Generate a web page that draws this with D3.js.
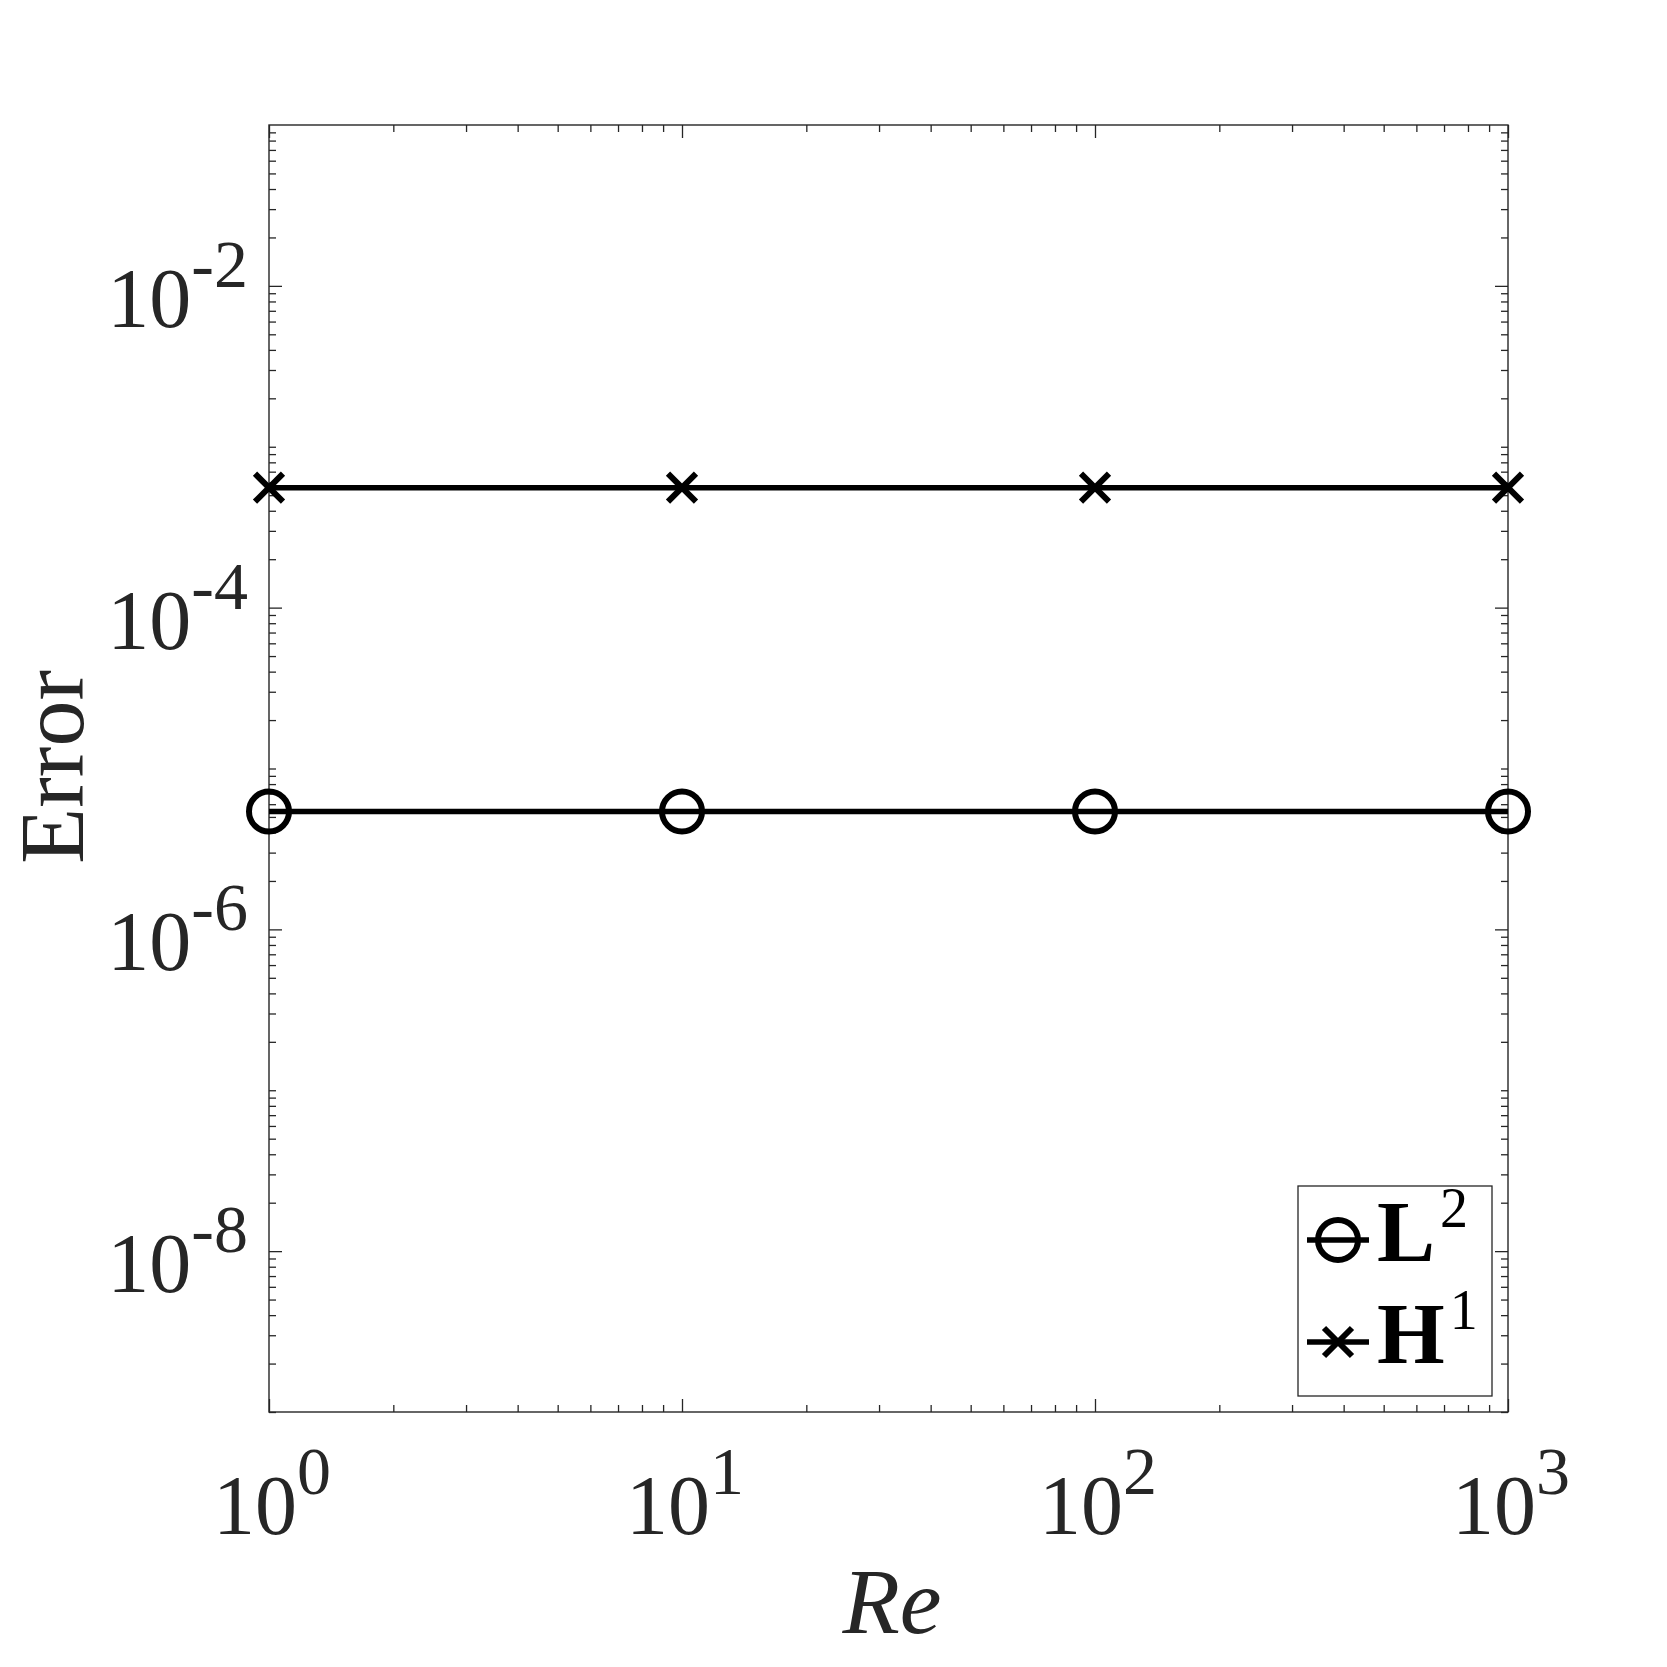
<!DOCTYPE html>
<html>
<head>
<meta charset="utf-8">
<script src="https://cdn.jsdelivr.net/npm/d3@7"></script>
<style>
  html, body { margin: 0; padding: 0; background: #fff; }
  text { font-family: "Liberation Serif", "Times New Roman", serif; fill: #262626; }
</style>
</head>
<body>
<svg id="chart" width="1667" height="1667"></svg>
<script>
// data
const reynolds = [1, 10, 100, 1000];
const errL2 = [5.4e-6, 5.4e-6, 5.4e-6, 5.4e-6];
const errH1 = [5.57e-4, 5.57e-4, 5.57e-4, 5.57e-4];

const xTickExps = [0, 1, 2, 3];
const yTickExps = [-8, -6, -4, -2];
const seriesNames = [
    { base: "L", sup: "2", marker: "circle" },
    { base: "H", sup: "1", marker: "cross" }
];

const axisColor = "#262626";
const plotL = 269, plotR = 1508, plotT = 125, plotB = 1412;
const markW = 6;

const svg = d3.select("#chart");
svg.append("rect").attr("width", 1667).attr("height", 1667).attr("fill", "#fff");

const x = d3.scaleLog().domain([1, 1000]).range([plotL, plotR]);
const y = d3.scaleLog().domain([1e-9, 1e-1]).range([plotB, plotT]);

// minor ticks: every 1..9 x 10^k not used as a major tick
function minorVals(scale, majors) {
    const [lo, hi] = scale.domain().map(Math.log10);
    const out = [];
    for (let k = Math.floor(lo); k < Math.ceil(hi); k++) {
        for (let m = 1; m <= 9; m++) {
            const v = m * Math.pow(10, k);
            const lv = Math.log10(v);
            if (lv < lo - 1e-9 || lv > hi + 1e-9) continue;
            if (m === 1 && majors.some(e => Math.abs(e - k) < 1e-9)) continue;
            out.push(v);
        }
    }
    return out;
}

const xMajor = xTickExps.map(e => Math.pow(10, e));
const yMajor = yTickExps.map(e => Math.pow(10, e));
const xMinor = minorVals(x, xTickExps);
const yMinor = minorVals(y, yTickExps);

function drawAxis(gen, transform) {
    const g = svg.append("g").attr("transform", transform).call(gen);
    g.select(".domain").remove();
    g.selectAll(".tick line").attr("stroke", axisColor).attr("stroke-width", 1.3);
    g.selectAll(".tick text").remove();
}

const majorLen = 13, minorLen = 7;
drawAxis(d3.axisBottom(x).tickValues(xMajor).tickSize(-majorLen), `translate(0,${plotB})`);
drawAxis(d3.axisBottom(x).tickValues(xMinor).tickSize(-minorLen), `translate(0,${plotB})`);
drawAxis(d3.axisTop(x).tickValues(xMajor).tickSize(-majorLen), `translate(0,${plotT})`);
drawAxis(d3.axisTop(x).tickValues(xMinor).tickSize(-minorLen), `translate(0,${plotT})`);
drawAxis(d3.axisLeft(y).tickValues(yMajor).tickSize(-majorLen), `translate(${plotL},0)`);
drawAxis(d3.axisLeft(y).tickValues(yMinor).tickSize(-minorLen), `translate(${plotL},0)`);
drawAxis(d3.axisRight(y).tickValues(yMajor).tickSize(-majorLen), `translate(${plotR},0)`);
drawAxis(d3.axisRight(y).tickValues(yMinor).tickSize(-minorLen), `translate(${plotR},0)`);

svg.append("rect")
    .attr("x", plotL).attr("y", plotT)
    .attr("width", plotR - plotL).attr("height", plotB - plotT)
    .attr("fill", "none").attr("stroke", axisColor).attr("stroke-width", 1.4);

// tick labels 10^k
const mainSize = 84, supSize = 68;
function powerLabel(sel, exp) {
    sel.append("tspan").text("10");
    sel.append("tspan").attr("dy", -40).attr("font-size", supSize).text(exp);
}

xTickExps.forEach(e => {
    svg.append("text")
        .attr("x", x(Math.pow(10, e)) + 3).attr("y", 1534)
        .attr("text-anchor", "middle").attr("font-size", mainSize)
        .call(powerLabel, String(e));
});
yTickExps.forEach(e => {
    svg.append("text")
        .attr("x", 248).attr("y", y(Math.pow(10, e)) + 41)
        .attr("text-anchor", "end").attr("font-size", mainSize)
        .call(powerLabel, "-" + Math.abs(e));
});

// axis titles
svg.append("text")
    .attr("x", 892).attr("y", 1633)
    .attr("text-anchor", "middle").attr("font-size", 94).attr("font-style", "italic")
    .text("Re");
svg.append("text")
    .attr("transform", "translate(83,767) rotate(-90)")
    .attr("text-anchor", "middle").attr("font-size", 92)
    .text("Error");

// series
const line = d3.line().x(d => x(d[0])).y(d => y(d[1]));
const seriesData = [
    reynolds.map((r, i) => [r, errL2[i]]),
    reynolds.map((r, i) => [r, errH1[i]])
];

function drawMarker(g, type) {
    if (type === "circle") {
        g.append("circle").attr("r", 20)
            .attr("fill", "none").attr("stroke", "#000").attr("stroke-width", markW);
    } else {
        const s = 14;
        g.append("path").attr("d", `M${-s},${-s}L${s},${s}M${-s},${s}L${s},${-s}`)
            .attr("fill", "none").attr("stroke", "#000").attr("stroke-width", markW);
    }
}

seriesData.forEach((pts, i) => {
    svg.append("path").datum(pts).attr("d", line)
        .attr("fill", "none").attr("stroke", "#000").attr("stroke-width", 5.5);
    pts.forEach(p => {
        const g = svg.append("g").attr("transform", `translate(${x(p[0])},${y(p[1])})`);
        drawMarker(g, seriesNames[i].marker);
    });
});

// legend
const legend = svg.append("g");
legend.append("rect")
    .attr("x", 1298).attr("y", 1186).attr("width", 194).attr("height", 210)
    .attr("fill", "#fff").attr("stroke", axisColor).attr("stroke-width", 1.3);

seriesNames.forEach((s, i) => {
    const cy = 1240 + i * 102;
    legend.append("line")
        .attr("x1", 1307).attr("x2", 1369).attr("y1", cy).attr("y2", cy)
        .attr("stroke", "#000").attr("stroke-width", 5.5);
    const g = legend.append("g").attr("transform", `translate(1338,${cy})`);
    drawMarker(g, s.marker);
    const t = legend.append("text")
        .attr("x", 1377).attr("y", cy + 21)
        .attr("font-size", 87).style("fill", "#000");
    t.append("tspan").attr("font-weight", "bold").text(s.base);
    t.append("tspan").attr("dy", -34).attr("dx", 5).attr("font-size", 56).text(s.sup);
});
</script>
</body>
</html>
